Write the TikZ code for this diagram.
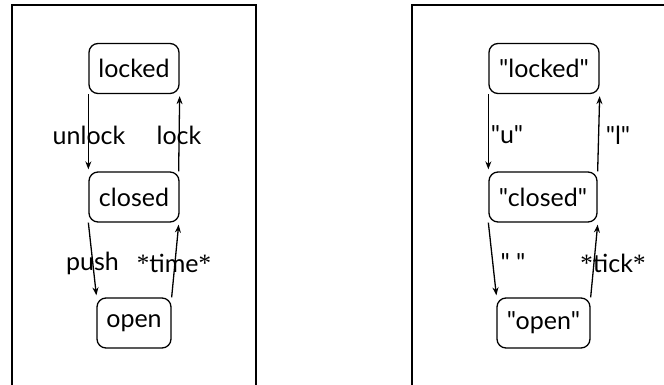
\documentclass[tikz,border=0pt]{standalone}
\usepackage{fontspec}
\setmainfont{Lato}[Ligatures=TeXOff]
\newfontfamily\astfont{Liberation Serif}
\usetikzlibrary{arrows.meta,calc}
\begin{document}
\begin{tikzpicture}[x=1pt,y=-1pt,
  state/.style={draw,line width=1.3pt,rounded corners=9pt,minimum height=50pt,inner sep=0pt,font=\fontsize{25}{28}\selectfont},
  lbl/.style={font=\fontsize{25}{28}\selectfont,inner sep=0pt},
  arr/.style={line width=1.3pt,-{Stealth[length=8pt,width=6pt]}},
  panel/.style={line width=1.1pt}]
\useasboundingbox (0,0) rectangle (664,385);
% panels
\coordinate (la) at (12,385); \coordinate (lb) at (12,5); \coordinate (lc) at (256,5); \coordinate (ld) at (256,385);
\draw[panel] (la) -- (lb) -- (lc) -- (ld);
\coordinate (ra) at (412,385); \coordinate (rb) at (412,5); \coordinate (rc) at (670,5);
\draw[panel] (ra) -- (rb) -- (rc);
% left states
\node[state,minimum width=90pt] (L1) at (134,68.5) {locked};
\node[state,minimum width=90pt] (L2) at (134,197) {closed};
\node[state,minimum width=74pt] (L3) at (134,323) {open};
\draw[arr] (L1.south west) -- ($(L2.north west)+(0,-2)$);
\draw[arr] ($(L2.north east)+(-1,0)$) -- ($(L1.south east)+(0,2)$);
\draw[arr] (L2.south west) -- ($(L3.north west)+(0,-2)$);
\draw[arr] (L3.north east) -- ($(L2.south east)+(-1,2)$);
\node[lbl] (lu) at (89,135) {unlock};
\node[lbl] (ll) at (179,135) {lock};
\node[lbl] (lp) at (92.5,263) {push};
\node[lbl] (lt) at (174,263) {{\astfont\raisebox{1pt}{*}}time{\astfont\raisebox{1pt}{*}}};
% right states
\node[state,minimum width=110pt] (R1) at (544,68.5) {"locked"};
\node[state,minimum width=108pt] (R2) at (543,197) {"closed"};
\node[state,minimum width=93pt] (R3) at (543.5,323) {"open"};
\draw[arr] (R1.south west) -- ($(R2.north west)+(0,-2)$);
\draw[arr] (R2.north east) -- ($(R1.south east)+(0,2)$);
\draw[arr] (R2.south west) -- ($(R3.north west)+(0,-2)$);
\draw[arr] (R3.north east) -- ($(R2.south east)+(0,2)$);
\node[lbl] (ru) at (507,135) {"u"};
\node[lbl] (rl) at (618,135) {"l"};
\node[lbl] (rs) at (513,263) {"\ "};
\node[lbl] (rt) at (613,263) {{\astfont\raisebox{1pt}{*}}tick{\astfont\raisebox{1pt}{*}}};
\end{tikzpicture}
\end{document}
